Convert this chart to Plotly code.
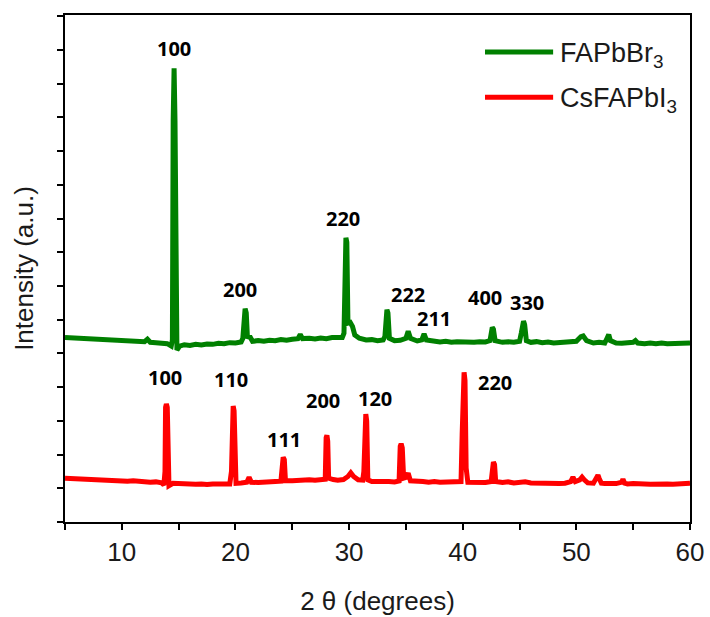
import plotly.graph_objects as go

# XRD patterns: 2-theta (degrees) and offset intensity (a.u.)
fapbbr3_2theta = [
    5.0, 5.5, 6.0, 6.5, 7.0, 7.5, 8.0, 8.5, 9.0, 9.5, 10.0, 10.5, 11.0, 11.5, 12.0,
    12.25, 12.5, 13.0, 13.5, 14.0, 14.35, 14.45, 14.52, 14.6, 14.68, 14.75, 14.85,
    15.1, 15.5, 16.0, 16.5, 17.0, 17.5, 18.0, 18.5, 19.0, 19.5, 20.0, 20.5, 20.65,
    20.75, 20.85, 20.95, 21.05, 21.3, 21.5, 22.0, 22.5, 23.0, 23.5, 24.0, 24.5, 25.0,
    25.5, 25.7, 25.9, 26.5, 27.0, 27.5, 28.0, 28.5, 29.0, 29.4, 29.55, 29.65, 29.72,
    29.8, 29.9, 30.1, 30.3, 30.5, 30.9, 31.5, 32.0, 32.5, 33.0, 33.15, 33.25, 33.33,
    33.42, 33.55, 34.0, 34.5, 35.0, 35.2, 35.4, 36.0, 36.4, 36.6, 36.8, 37.5, 38.0,
    38.5, 39.0, 39.5, 40.0, 40.5, 41.0, 41.5, 42.0, 42.4, 42.5, 42.6, 42.7, 42.85,
    43.5, 44.0, 44.5, 45.0, 45.15, 45.25, 45.35, 45.45, 45.6, 46.0, 46.5, 47.0, 47.5,
    48.0, 48.5, 49.0, 49.5, 50.0, 50.4, 50.6, 50.9, 51.5, 52.0, 52.5, 52.7, 52.85,
    53.0, 53.5, 54.0, 54.5, 55.0, 55.2, 55.4, 56.0, 56.5, 57.0, 57.5, 58.0, 58.5,
    59.0, 59.5, 60.0,
]
fapbbr3_intensity = [
    5.47, 5.46, 5.48, 5.44, 5.45, 5.42, 5.43, 5.40, 5.41, 5.38, 5.39, 5.36, 5.37, 5.34, 5.35,
    5.42, 5.33, 5.32, 5.30, 5.29, 5.22, 5.40, 11.9, 13.46, 11.9, 5.50, 5.10,
    5.22, 5.26, 5.24, 5.27, 5.25, 5.28, 5.27, 5.30, 5.29, 5.32, 5.31, 5.34, 5.45,
    6.25, 6.33, 6.20, 5.50, 5.48, 5.36, 5.38, 5.36, 5.39, 5.38, 5.41, 5.39, 5.42,
    5.44, 5.56, 5.44, 5.45, 5.43, 5.46, 5.44, 5.47, 5.45, 5.47, 5.60, 8.30, 8.43,
    8.30, 5.90, 5.92, 5.80, 5.55, 5.45, 5.40, 5.41, 5.38, 5.40, 5.50, 6.25, 6.30,
    6.20, 5.45, 5.38, 5.39, 5.45, 5.66, 5.45, 5.37, 5.40, 5.58, 5.40, 5.36, 5.34,
    5.36, 5.33, 5.35, 5.34, 5.36, 5.33, 5.35, 5.34, 5.38, 5.72, 5.77, 5.72, 5.38,
    5.33, 5.35, 5.33, 5.36, 5.60, 5.95, 5.96, 5.85, 5.38, 5.33, 5.35, 5.32, 5.34,
    5.31, 5.33, 5.32, 5.34, 5.36, 5.50, 5.52, 5.38, 5.31, 5.33, 5.31, 5.45, 5.56,
    5.38, 5.31, 5.30, 5.32, 5.33, 5.38, 5.31, 5.29, 5.31, 5.29, 5.31, 5.29, 5.30,
    5.28, 5.30, 5.31,
]

csfapbi3_2theta = [
    5.0, 5.5, 6.0, 6.5, 7.0, 7.5, 8.0, 8.5, 9.0, 9.5, 10.0, 10.5, 11.0, 11.5, 12.0,
    12.5, 13.0, 13.5, 13.7, 13.8, 13.85, 13.92, 14.0, 14.05, 14.15, 14.5, 15.0, 15.5,
    16.0, 16.5, 17.0, 17.5, 18.0, 18.5, 19.0, 19.5, 19.65, 19.72, 19.8, 19.88, 19.95,
    20.05, 20.5, 21.0, 21.2, 21.4, 22.0, 22.5, 23.0, 23.5, 24.0, 24.1, 24.2, 24.3,
    24.4, 25.0, 25.5, 26.0, 26.5, 27.0, 27.5, 27.9, 27.98, 28.05, 28.12, 28.2, 28.6,
    29.0, 29.5, 29.9, 30.15, 30.4, 30.8, 31.2, 31.3, 31.4, 31.47, 31.55, 31.65, 32.0,
    32.5, 33.0, 33.5, 34.0, 34.4, 34.5, 34.58, 34.68, 34.8, 35.0, 35.2, 35.4, 36.0,
    36.5, 37.0, 37.5, 38.0, 38.5, 39.0, 39.5, 39.85, 39.95, 40.05, 40.12, 40.2, 40.3,
    40.45, 41.0, 41.5, 42.0, 42.5, 42.6, 42.7, 42.8, 42.9, 43.5, 44.0, 44.5, 45.0,
    45.5, 46.0, 46.5, 47.0, 47.5, 48.0, 48.5, 49.0, 49.5, 49.7, 49.9, 50.3, 50.5,
    50.7, 51.0, 51.5, 51.8, 51.9, 52.0, 52.2, 52.5, 53.0, 53.5, 54.0, 54.1, 54.25,
    54.5, 55.0, 55.5, 56.0, 56.5, 57.0, 57.5, 58.0, 58.5, 59.0, 59.5, 60.0,
]
csfapbi3_intensity = [
    1.30, 1.29, 1.30, 1.27, 1.28, 1.26, 1.27, 1.24, 1.25, 1.23, 1.23, 1.21, 1.22, 1.20, 1.20,
    1.18, 1.19, 1.16, 1.10, 1.50, 3.40, 3.50, 3.40, 1.60, 1.08, 1.15, 1.14, 1.12,
    1.14, 1.12, 1.13, 1.11, 1.13, 1.12, 1.14, 1.13, 1.50, 3.40, 3.44, 3.30, 1.60,
    1.15, 1.16, 1.18, 1.33, 1.18, 1.17, 1.19, 1.18, 1.20, 1.21, 1.60, 1.92, 1.85,
    1.22, 1.22, 1.24, 1.23, 1.25, 1.24, 1.26, 1.27, 2.50, 2.57, 2.40, 1.30, 1.26,
    1.24, 1.26, 1.35, 1.46, 1.35, 1.25, 1.24, 1.50, 3.15, 3.20, 3.00, 1.25, 1.20,
    1.21, 1.19, 1.20, 1.19, 1.22, 2.25, 2.32, 2.20, 1.30, 1.32, 1.45, 1.22, 1.19,
    1.20, 1.18, 1.20, 1.18, 1.19, 1.17, 1.18, 1.20, 2.60, 4.40, 4.44, 4.20, 1.60,
    1.18, 1.17, 1.19, 1.17, 1.20, 1.72, 1.78, 1.70, 1.20, 1.17, 1.19, 1.16, 1.18,
    1.19, 1.16, 1.15, 1.16, 1.14, 1.15, 1.14, 1.15, 1.20, 1.33, 1.20, 1.25, 1.33,
    1.25, 1.16, 1.15, 1.30, 1.39, 1.30, 1.15, 1.14, 1.13, 1.14, 1.18, 1.27, 1.15,
    1.13, 1.14, 1.12, 1.13, 1.12, 1.13, 1.12, 1.13, 1.12, 1.13, 1.12, 1.15,
]

# Miller-index labels: text, 2-theta position, height
fapbbr3_hkl = ["100", "200", "220", "222", "211", "400", "330"]
fapbbr3_hkl_x = [14.6, 20.4, 29.47, 35.19, 37.48, 41.97, 45.67]
fapbbr3_hkl_y = [14.05, 6.89, 8.99, 6.75, 6.04, 6.66, 6.51]

csfapbi3_hkl = ["100", "110", "111", "200", "120", "220"]
csfapbi3_hkl_x = [13.8, 19.6, 24.28, 27.7, 32.29, 42.85]
csfapbi3_hkl_y = [4.29, 4.23, 2.46, 3.61, 3.67, 4.14]

x_ticks = [10, 20, 30, 40, 50, 60]

GREEN = "#008000"
RED = "#ff0000"
AXIS_FONT = "Liberation Sans"
LABEL_FONT = "Open Sans"
TEXT_COLOR = "#1a1a1a"

fig = go.Figure()
fig.add_trace(go.Scatter(x=fapbbr3_2theta, y=fapbbr3_intensity, mode="lines",
                         line=dict(color=GREEN, width=5), showlegend=False))
fig.add_trace(go.Scatter(x=csfapbi3_2theta, y=csfapbi3_intensity, mode="lines",
                         line=dict(color=RED, width=5), showlegend=False))

for txt, xv, yv in zip(fapbbr3_hkl, fapbbr3_hkl_x, fapbbr3_hkl_y):
    fig.add_annotation(x=xv, y=yv, text=f"<b>{txt}</b>", showarrow=False,
                       font=dict(family=LABEL_FONT, size=20, color="black"))
for txt, xv, yv in zip(csfapbi3_hkl, csfapbi3_hkl_x, csfapbi3_hkl_y):
    fig.add_annotation(x=xv, y=yv, text=f"<b>{txt}</b>", showarrow=False,
                       font=dict(family=LABEL_FONT, size=20, color="black"))

# Legend drawn as line samples plus labels in the upper right corner
legend_items = [("FAPbBr<sub>3</sub>", GREEN, 0.927), ("CsFAPbI<sub>3</sub>", RED, 0.838)]
for label, color, ypos in legend_items:
    fig.add_shape(type="line", xref="paper", yref="paper", x0=0.672, x1=0.781,
                  y0=ypos, y1=ypos, line=dict(color=color, width=5))
    fig.add_annotation(xref="paper", yref="paper", x=0.789, y=ypos, text=label,
                       showarrow=False, xanchor="left", yanchor="middle", yshift=-3,
                       font=dict(family=AXIS_FONT, size=27, color=TEXT_COLOR))

fig.update_layout(
    width=710, height=617,
    margin=dict(l=65, r=20, t=15, b=95, autoexpand=False),
    plot_bgcolor="white", paper_bgcolor="white",
    font=dict(family=AXIS_FONT, size=26, color=TEXT_COLOR),
)
fig.update_xaxes(
    range=[5, 60], tickvals=x_ticks, ticks="outside", ticklen=6, tickwidth=1.5,
    tickcolor="black", showline=True, linecolor="black", linewidth=1.5, mirror=True,
    showgrid=False, zeroline=False, automargin=False,
    minor=dict(dtick=5, tick0=0, ticks="outside", ticklen=6, tickwidth=1.5, tickcolor="black"),
    tickfont=dict(size=26),
    title=dict(text="2 θ (degrees)", font=dict(size=26), standoff=26),
)
fig.update_yaxes(
    range=[0, 15.04], dtick=1, tick0=0, ticks="outside", ticklen=6, tickwidth=1.5,
    tickcolor="black", showticklabels=False, showline=True, linecolor="black",
    linewidth=1.5, mirror=True, showgrid=False, zeroline=False, automargin=False,
    title=dict(text="Intensity (a.u.)", font=dict(size=26), standoff=16),
)

fig.write_html("out.html")
